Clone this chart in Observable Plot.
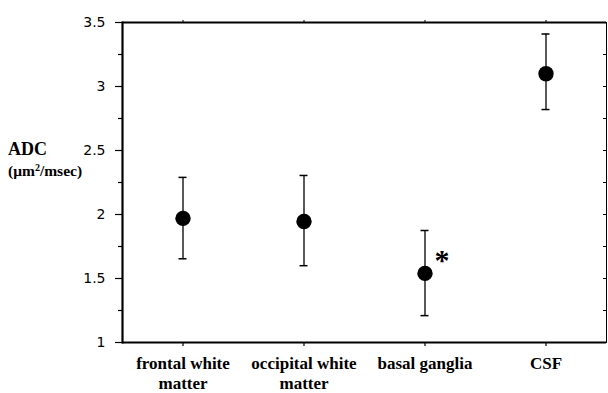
<!DOCTYPE html>
<html>
<head>
<meta charset="utf-8">
<script src="https://cdn.jsdelivr.net/npm/d3@7"></script>
<script src="https://cdn.jsdelivr.net/npm/@observablehq/plot@0.6"></script>
<style>
  html, body { margin: 0; padding: 0; background: #fff; }
  #wrap { position: relative; width: 608px; height: 393px; }
  #ylabel { position: absolute; left: 8px; top: 139px; font-family: "Liberation Serif", "Times New Roman", serif; font-weight: bold; color: #000; }
  #ylabel .main { font-size: 18px; line-height: 20px; }
  #ylabel .unit { font-size: 15.5px; line-height: 18px; }
</style>
</head>
<body>
<div id="wrap">
  <div id="ylabel"><div class="main">ADC</div><div class="unit">(μm<sup style="font-size:10px;vertical-align:5px">2</sup>/msec)</div></div>
</div>
<script>
const categories = ["frontal white matter", "occipital white matter", "basal ganglia", "CSF"];
const tickLabels = ["frontal white\nmatter", "occipital white\nmatter", "basal ganglia", "CSF"];
const means = [1.97, 1.945, 1.54, 3.10];
const lower = [1.654, 1.60, 1.21, 2.82];
const upper = [2.29, 2.305, 1.875, 3.41];
const marks = ["", "", "*", ""];
const yMajor = [1, 1.5, 2, 2.5, 3, 3.5];
const yMinor = [1.25, 1.75, 2.25, 2.75, 3.25];
const yAll = [1, 1.25, 1.5, 1.75, 2, 2.25, 2.5, 2.75, 3, 3.25, 3.5];

const data = categories.map((c, i) => ({cat: c, mean: means[i], lo: lower[i], hi: upper[i], mark: marks[i]}));
const labelOf = new Map(categories.map((c, i) => [c, tickLabels[i]]));

const chart = Plot.plot({
  width: 608,
  height: 393,
  marginLeft: 122,
  marginRight: 2,
  marginTop: 22,
  marginBottom: 51,
  style: {background: "#fff", color: "#000", overflow: "visible"},
  x: {type: "band", domain: categories, padding: 0},
  y: {domain: [1, 3.5]},
  marks: [
    Plot.frame({stroke: "#000", strokeWidth: 1}),
    Plot.frame({anchor: "left", stroke: "#000", strokeWidth: 2.2}),
    Plot.ruleY([1, 3.5], {stroke: "#000", strokeWidth: 2.2}),
    Plot.axisY(yMajor, {tickSize: 7, tickPadding: 10, tickFormat: d => String(d), fontFamily: "DejaVu Sans, Verdana, sans-serif", fontSize: 14, strokeWidth: 1.2}),
    Plot.axisY(yMinor, {tickSize: 4, tickFormat: () => "", strokeWidth: 1.2}),
    Plot.axisY(yAll, {anchor: "right", tickSize: -4, tickFormat: () => "", label: null}),
    Plot.axisX({anchor: "bottom", tickSize: 4, tickPadding: 8, tickFormat: d => labelOf.get(d), fontFamily: "Liberation Serif, Times New Roman, serif", fontWeight: "bold", fontSize: 17, lineHeight: 1.18, label: null, strokeWidth: 1.2}),
    Plot.axisX({anchor: "top", tickSize: 3, tickFormat: () => "", label: null}),
    Plot.ruleX(data, {x: "cat", y1: "lo", y2: "hi", stroke: "#000", strokeWidth: 1.3}),
    Plot.tickY(data, {x: "cat", y: "lo", insetLeft: 56.5, insetRight: 56.5, stroke: "#000", strokeWidth: 1.5}),
    Plot.tickY(data, {x: "cat", y: "hi", insetLeft: 56.5, insetRight: 56.5, stroke: "#000", strokeWidth: 1.5}),
    Plot.dot(data, {x: "cat", y: "mean", r: 7.7, fill: "#000", stroke: "none"}),
    Plot.text(data, {x: "cat", y: "mean", text: "mark", dx: 17, dy: -13, fontSize: 30, fontWeight: "bold", fontFamily: "Liberation Serif, Times New Roman, serif", textAnchor: "middle", lineAnchor: "middle"})
  ]
});
document.getElementById("wrap").prepend(chart);
</script>
</body>
</html>
